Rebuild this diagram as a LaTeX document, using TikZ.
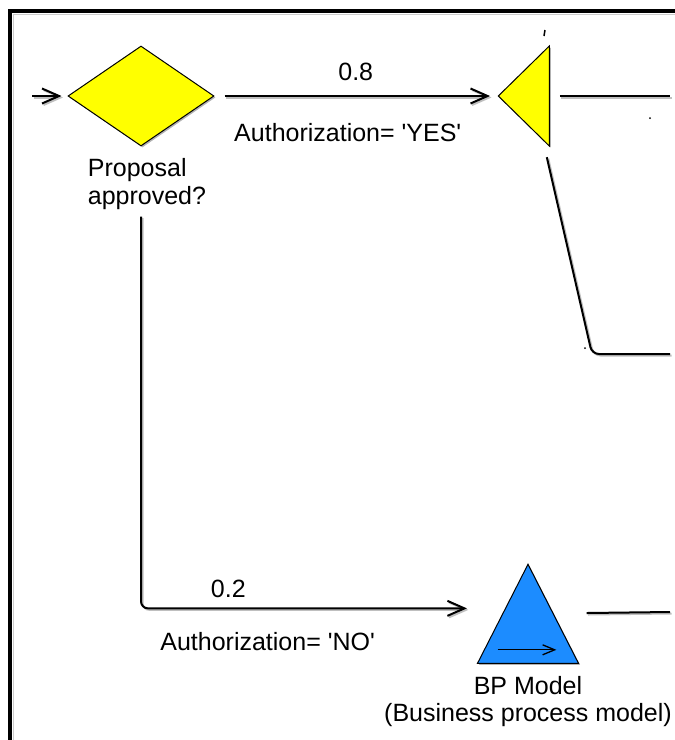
\documentclass[tikz,border=0pt]{standalone}
\usepackage{fontspec}
\setmainfont{Liberation Sans}
\usetikzlibrary{arrows.meta,positioning,shapes.geometric,shadows,calc}
\definecolor{gateyellow}{RGB}{255,255,0}
\definecolor{modelblue}{RGB}{28,140,255}
\newcommand{\tick}{\textquotesingle}
\tikzset{
  flowline/.style={line width=2pt,
    preaction={draw=gray!50,line width=2pt,transform canvas={shift={(1.5pt,-1.5pt)}}}},
  flow/.style={flowline,-{Straight Barb[length=17pt,width=15pt,line width=2pt]}},
  shape shadow/.style={drop shadow={shadow xshift=1.5pt,shadow yshift=-1.5pt,fill=gray!60,opacity=1}},
  decision/.style={diamond,draw,line width=1pt,fill=gateyellow,inner sep=0pt,
    minimum width=146pt,minimum height=100pt,shape shadow},
  merge/.style={isosceles triangle,isosceles triangle stretches,shape border rotate=180,
    draw,line width=1pt,fill=gateyellow,inner sep=0pt,
    minimum width=100pt,minimum height=51pt,shape shadow},
  model/.style={isosceles triangle,isosceles triangle stretches,shape border rotate=90,
    draw,line width=1pt,fill=modelblue,inner sep=0pt,
    minimum width=101pt,minimum height=99pt,shape shadow},
  lbl/.style={inner sep=0pt},
  frame/.style={line width=4pt}
}

\begin{document}
\begin{tikzpicture}[x=1pt,y=-1pt,font=\fontsize{25}{27.5}\selectfont]
  \useasboundingbox (0,0) rectangle (675,740);
  % window frame, top and left edge
  \draw[frame] (10,740) -- (10,11) -- (675,11);
  \draw[gray!40,line width=1pt] (13.5,740) -- (13.5,14.5) -- (675,14.5);

  \node[decision] (dec) at (141,96) {};
  \node[lbl,align=left,below=12pt of dec,xshift=6pt] (declbl) {Proposal\\approved?};
  \node[merge,anchor=apex] (yel) at (497,96) {};
  \node[model,anchor=apex] (bp) at (528,563) {};
  \node[lbl,align=center,below=12pt of bp] (bplbl) {BP Model\\(Business process model)};

  \coordinate (in) at (32,96);
  \coordinate (yout) at (670,96);
  \coordinate (ybend) at (592,354);
  \coordinate (ydown) at (670,354);
  \coordinate (bpout) at (670,612);

  \draw[flow,shorten >=6pt] (in) -- (dec);
  \draw[flow,shorten <=10pt,shorten >=7pt] (dec) --
    node[yshift=24pt] {0.8}
    node[yshift=-37pt,xshift=-8pt] {Authorization= \tick YES\tick} (yel);
  \draw[flow,rounded corners=7pt,shorten <=7pt,shorten >=38pt]
    (dec |- declbl.south) |- ($(bp.apex)!0.45!(bp.left corner)$)
    node[pos=0.62,yshift=19pt] {0.2}
    node[pos=0.674,yshift=-33pt] {Authorization= \tick NO\tick};

  % outgoing branches
  \draw[flowline,shorten <=10pt] (yel.lower side) -- (yout);
  \draw[flowline,rounded corners=7pt] ($(yel.left corner)+(-3,10)$) -- (ybend) -- (ydown);
  \draw[flowline,shorten <=33pt] ($(bp.apex)!0.5!(bp.right corner)$) -- (bpout);
  \draw[-{Straight Barb[length=12pt,width=10pt]},line width=1.3pt]
    ($(bp.left corner)+(21,-14)$) -- ($(bp.right corner)+(-23,-14)$);

  % stray marks
  \draw[line width=1.5pt] (545,30) -- (544,36);
  \fill (650,118) circle (1pt);
  \fill (585,348) circle (1pt);
\end{tikzpicture}
\end{document}
